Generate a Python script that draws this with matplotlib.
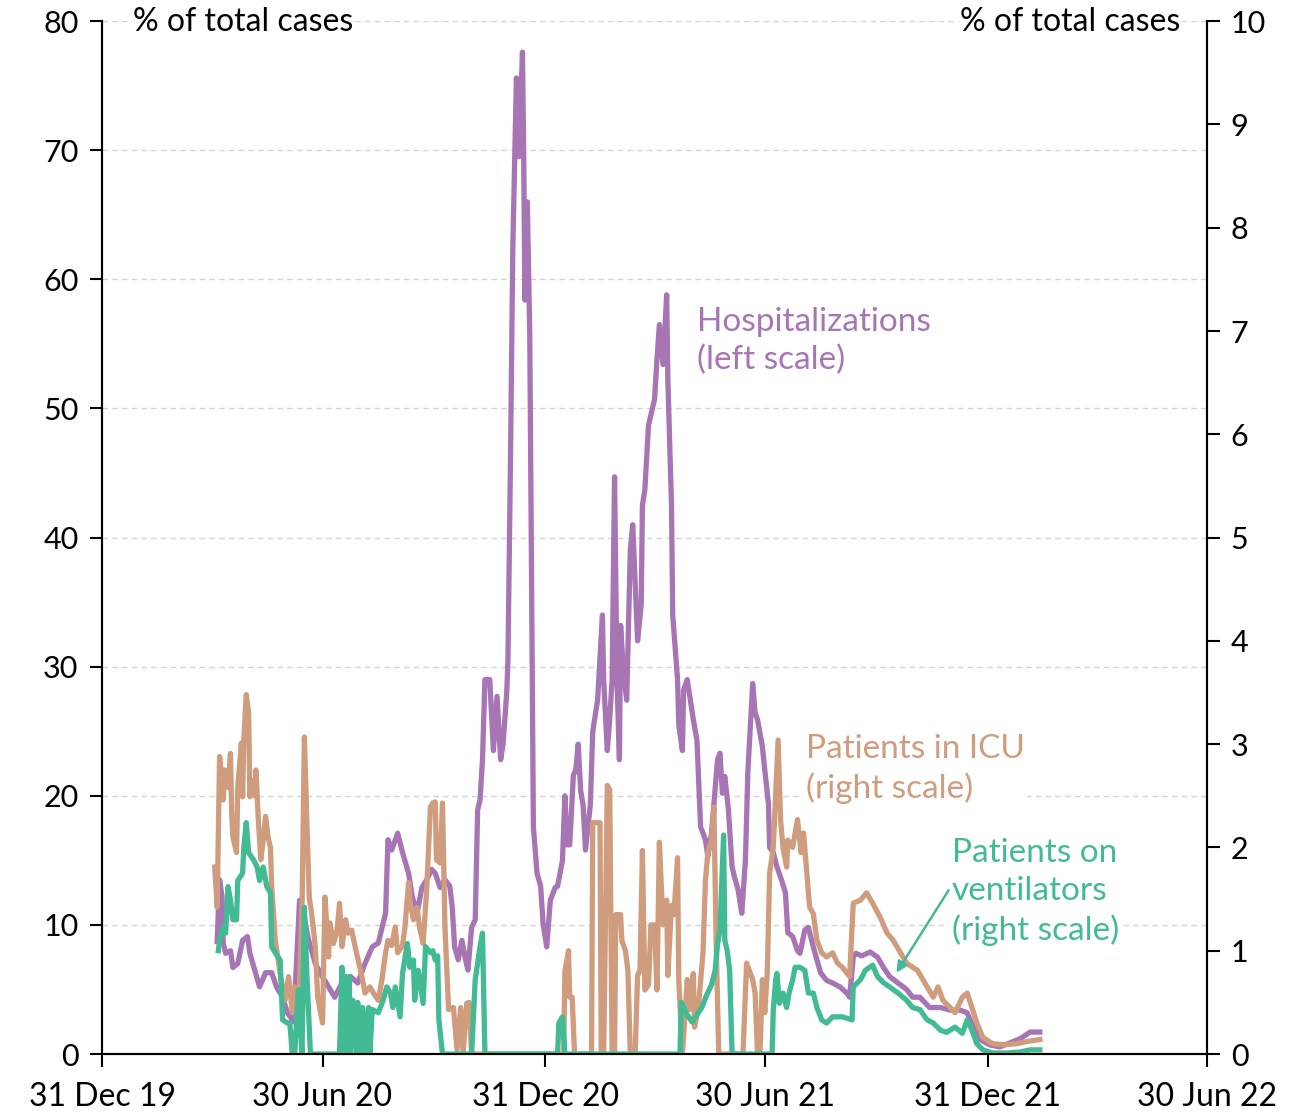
import matplotlib
matplotlib.use("Agg")
import matplotlib.pyplot as plt
import matplotlib.dates as mdates
import pandas as pd

plt.rcParams['font.family'] = ['Lato', 'DejaVu Sans']

# days counted from 31 Dec 2019
hosp_days = [95, 97, 99, 100, 102, 106, 108, 112, 116, 120, 122, 126, 130, 135, 140, 144, 149, 153,
             158, 161, 163, 166, 170, 176, 180, 187, 192, 198, 205, 211, 217, 223, 228, 234, 236, 239,
             244, 248, 253, 256, 260, 264, 268, 272, 275, 279, 283, 287, 289, 291, 294, 297, 300, 302,
             305, 308, 310, 312, 314, 316, 320, 323, 326, 329, 331, 334, 335, 337, 339, 342, 344, 347,
             348, 349, 351, 353, 355, 356, 359, 362, 364, 367, 370, 374, 376, 380, 382, 384, 386, 389,
             391, 393, 395, 397, 399, 403, 405, 409, 413, 414, 417, 419, 421, 423, 425, 427, 428, 430,
             433, 436, 438, 442, 445, 446, 448, 451, 454, 456, 458, 460, 463, 466, 467, 470, 471, 475,
             476, 479, 480, 483, 488, 491, 494, 498, 500, 503, 508, 510, 512, 514, 517, 520, 522, 525,
             528, 531, 533, 537, 539, 541, 545, 547, 550, 551, 554, 557, 560, 564, 566, 570, 574, 576,
             580, 583, 587, 593, 598, 603, 609, 615, 617, 620, 622, 627, 634, 640, 645, 650, 657, 664,
             669, 675, 683, 692, 700, 708, 714, 719, 725, 733, 741, 749, 758, 766, 774]
hosp_vals = [8.7, 13.5, 12.2, 8.6, 7.8, 8.0, 6.7, 7.0, 8.8, 9.1, 7.8, 6.5, 5.2, 6.3, 6.3, 5.2, 4.4, 3.2,
             2.5, 8.0, 11.9, 11.0, 9.0, 7.0, 6.3, 5.2, 4.4, 5.5, 6.0, 5.5, 7.0, 8.3, 8.6, 10.9, 16.6, 15.8,
             17.1, 15.6, 14.0, 12.2, 10.9, 12.9, 13.5, 14.3, 14.0, 12.9, 13.5, 13.0, 11.4, 8.3, 7.3, 8.8, 7.3, 6.5,
             9.8, 10.4, 18.9, 19.7, 22.8, 29.0, 29.0, 23.5, 27.7, 22.8, 24.0, 28.0, 30.5, 45.2, 62.3, 75.6, 69.5, 77.6,
             69.8, 58.4, 66.0, 55.8, 30.5, 17.6, 14.0, 13.0, 10.1, 8.3, 11.9, 12.9, 13.0, 15.0, 20.0, 16.2, 16.2, 21.6,
             22.0, 24.0, 20.4, 19.3, 15.8, 19.3, 25.0, 27.4, 34.0, 29.0, 23.5, 25.9, 29.0, 44.7, 29.0, 22.8, 33.2, 30.0,
             27.4, 39.0, 41.0, 32.0, 34.8, 42.5, 43.7, 48.7, 49.9, 50.7, 53.8, 56.5, 53.4, 58.8, 52.2, 42.5, 34.0, 29.0,
             25.5, 23.5, 28.2, 29.0, 25.9, 24.3, 17.6, 16.6, 15.3, 17.1, 22.8, 23.3, 20.2, 21.5, 18.9, 14.5, 13.7, 12.7,
             10.9, 15.0, 21.8, 28.7, 26.4, 25.9, 23.8, 22.0, 19.4, 16.0, 15.6, 14.5, 13.7, 12.5, 9.4, 9.1, 8.0, 7.8,
             9.6, 9.8, 8.3, 6.3, 5.7, 5.5, 5.2, 4.7, 4.4, 7.5, 7.8, 7.6, 7.9, 7.5, 6.7, 6.0, 5.5, 5.0,
             4.4, 4.4, 3.6, 3.6, 3.4, 3.4, 3.2, 2.1, 1.1, 0.7, 0.55, 0.85, 1.2, 1.7, 1.7]

icu_days = [93, 95, 97, 99, 100, 101, 104, 106, 107, 108, 111, 112, 115, 116, 117, 119, 121, 122, 124, 126,
            127, 129, 131, 133, 135, 137, 139, 140, 143, 147, 151, 154, 157, 159, 162, 165, 167, 169, 171, 173,
            176, 178, 182, 184, 187, 188, 191, 194, 196, 198, 201, 203, 206, 210, 215, 217, 221, 224, 228, 231,
            234, 236, 239, 242, 244, 248, 250, 253, 254, 257, 260, 262, 265, 268, 271, 273, 275, 276, 279, 281,
            283, 286, 290, 293, 296, 298, 301, 303, 305, 381, 382, 385, 386, 388, 390, 404, 405, 411, 412, 414,
            417, 419, 421, 423, 424, 428, 429, 432, 434, 436, 440, 442, 444, 446, 448, 451, 453, 456, 458, 460,
            463, 466, 467, 470, 472, 475, 476, 479, 483, 485, 488, 489, 492, 496, 498, 500, 503, 505, 507, 509,
            529, 532, 537, 539, 541, 543, 545, 547, 549, 551, 554, 556, 558, 560, 562, 565, 566, 570, 572, 574,
            577, 579, 582, 584, 587, 590, 594, 598, 603, 607, 611, 615, 617, 620, 626, 631, 636, 642, 648, 653,
            659, 664, 673, 681, 686, 690, 694, 700, 704, 710, 714, 718, 722, 727, 735, 744, 755, 763, 774]
icu_vals = [1.81, 1.42, 2.88, 2.65, 2.46, 2.75, 2.58, 2.91, 2.33, 2.1, 1.95, 2.58, 3.01, 2.49, 3.04, 3.48, 3.3, 2.49, 2.65, 2.5,
            2.75, 2.27, 1.88, 2.07, 2.3, 2.1, 2.0, 1.62, 1.1, 0.78, 0.52, 0.75, 0.4, 0.65, 0.33, 1.36, 3.07, 2.27, 1.52, 1.36,
            1.04, 0.55, 0.3, 1.52, 0.94, 1.27, 1.07, 1.2, 1.46, 1.04, 1.3, 1.17, 1.2, 0.98, 0.72, 0.59, 0.65, 0.59, 0.52, 0.72,
            0.98, 1.1, 1.05, 1.23, 0.98, 1.05, 1.23, 1.66, 1.49, 1.3, 1.42, 1.23, 1.07, 1.6, 2.39, 2.43, 2.44, 1.88, 1.85, 2.43,
            1.23, 0.43, 0.45, 0.04, 0.45, 0.0, 0.49, 0.5, 0.0, 0.0, 0.8, 1.0, 0.55, 0.55, 0.0, 0.0, 2.24, 2.24, 0.0, 0.0,
            2.6, 2.56, 0.0, 0.0, 1.35, 1.35, 1.1, 1.0, 0.81, 0.0, 0.0, 0.76, 0.81, 1.97, 0.62, 0.67, 1.25, 1.25, 0.62, 2.05,
            1.25, 1.49, 0.76, 1.44, 1.35, 1.9, 0.72, 0.0, 0.72, 0.43, 0.78, 0.26, 0.43, 0.98, 1.68, 1.95, 2.07, 2.39, 1.0, 0.0,
            0.0, 0.88, 0.72, 0.59, 0.0, 0.0, 0.72, 0.4, 0.78, 1.75, 2.0, 2.52, 3.04, 2.27, 2.0, 1.81, 2.07, 2.0, 2.14, 2.27,
            1.95, 2.14, 1.71, 1.42, 1.36, 1.1, 0.98, 0.94, 0.98, 0.88, 0.84, 0.78, 0.75, 1.46, 1.49, 1.56, 1.46, 1.33, 1.17, 1.1,
            0.98, 0.88, 0.81, 0.65, 0.55, 0.65, 0.52, 0.45, 0.4, 0.55, 0.59, 0.45, 0.3, 0.16, 0.1, 0.09, 0.1, 0.12, 0.14]

vent_days = [96, 97, 100, 102, 104, 106, 108, 111, 112, 116, 117, 119, 121, 125, 128, 130, 133, 136, 139, 140,
             143, 147, 149, 153, 155, 157, 159, 162, 165, 167, 169, 172, 196, 198, 199, 201, 202, 204, 205, 207,
             210, 211, 214, 215, 218, 220, 221, 223, 228, 232, 235, 238, 240, 242, 246, 248, 252, 254, 257, 258,
             261, 265, 267, 271, 273, 275, 277, 278, 281, 305, 308, 312, 314, 316, 376, 377, 380, 382, 477, 478,
             483, 487, 491, 495, 499, 503, 506, 508, 510, 513, 514, 516, 518, 520, 553, 554, 556, 557, 559, 562,
             565, 567, 570, 572, 576, 580, 583, 587, 590, 594, 598, 603, 611, 619, 620, 626, 630, 636, 640, 645,
             650, 657, 664, 669, 675, 681, 686, 692, 697, 704, 710, 714, 718, 722, 727, 735, 747, 758, 766, 774]
vent_vals = [1.0, 1.1, 1.23, 1.17, 1.62, 1.49, 1.3, 1.3, 1.68, 1.75, 2.0, 2.24, 1.95, 1.88, 1.81, 1.68, 1.81, 1.62, 1.56, 1.04,
             0.98, 0.91, 0.33, 0.3, 0.3, 0.0, 0.0, 0.62, 0.0, 1.42, 0.78, 0.0, 0.0, 0.84, 0.0, 0.75, 0.0, 0.75, 0.0, 0.52,
             0.0, 0.5, 0.0, 0.45, 0.0, 0.45, 0.0, 0.43, 0.4, 0.52, 0.65, 0.59, 0.45, 0.65, 0.36, 0.78, 1.07, 0.84, 0.91, 0.52,
             0.81, 0.49, 1.04, 0.98, 1.0, 0.91, 0.95, 0.33, 0.0, 0.0, 0.72, 1.04, 1.17, 0.0, 0.0, 0.3, 0.36, 0.0, 0.0, 0.5,
             0.38, 0.31, 0.38, 0.45, 0.57, 0.67, 0.81, 1.06, 1.2, 2.12, 1.1, 1.0, 0.81, 0.0, 0.0, 0.43, 0.72, 0.78, 0.49, 0.59,
             0.45, 0.59, 0.72, 0.84, 0.84, 0.81, 0.59, 0.59, 0.45, 0.33, 0.3, 0.36, 0.36, 0.33, 0.65, 0.72, 0.81, 0.86, 0.75, 0.69,
             0.65, 0.59, 0.52, 0.45, 0.43, 0.33, 0.3, 0.23, 0.21, 0.26, 0.2, 0.33, 0.23, 0.1, 0.04, 0.01, 0.01, 0.02, 0.04, 0.04]

tick_dates = ['2019-12-31', '2020-06-30', '2020-12-31', '2021-06-30', '2021-12-31', '2022-06-30']

base = pd.Timestamp('2019-12-31')
def to_dates(days):
    return base + pd.to_timedelta(days, unit='D')

purple = '#a775b3'
tan = '#cf9c7e'
green = '#42ba94'

fig = plt.figure(figsize=(13.1, 11.13), dpi=100)
ax = fig.add_axes([0.0779, 0.053, 0.8435, 0.928])
ax2 = ax.twinx()

lw = 3.8
ax.plot(to_dates(hosp_days), hosp_vals, color=purple, lw=lw, solid_joinstyle='round')
ax2.plot(to_dates(icu_days), icu_vals, color=tan, lw=lw, solid_joinstyle='round')
ax2.plot(to_dates(vent_days), vent_vals, color=green, lw=lw, solid_joinstyle='round')

ax.set_xlim(pd.Timestamp(tick_dates[0]), pd.Timestamp(tick_dates[-1]))
ax.set_ylim(0, 80)
ax2.set_ylim(0, 10)
ax.set_yticks(range(0, 81, 10))
ax2.set_yticks(range(0, 11))
ax.set_xticks([pd.Timestamp(d) for d in tick_dates])
ax.xaxis.set_major_formatter(mdates.DateFormatter('%d %b %y'))

ax.grid(axis='y', color='#d4d4d4', ls=(0, (4, 3)), lw=1)
ax.set_axisbelow(True)

for a in (ax, ax2):
    a.spines['top'].set_visible(False)
    for s in ('left', 'right', 'bottom'):
        a.spines[s].set_linewidth(1.5)
    a.tick_params(direction='out', length=9, width=1.5, labelsize=22, pad=8)
ax.tick_params(axis='x', labelsize=23, pad=11)

ax2.text(0.028, 0.999, '% of total cases', transform=ax2.transAxes, ha='left', va='center',
         fontsize=23, bbox=dict(facecolor='white', edgecolor='none', pad=1))
ax2.text(0.9756, 0.999, '% of total cases', transform=ax2.transAxes, ha='right', va='center',
         fontsize=23, bbox=dict(facecolor='white', edgecolor='none', pad=1))

ax2.text(0.5385, 0.690, 'Hospitalizations\n(left scale)', transform=ax2.transAxes, color=purple,
         fontsize=24, ha='left', va='center', linespacing=1.32)
ax2.text(0.637, 0.276, 'Patients in ICU\n(right scale)', transform=ax2.transAxes, color=tan,
         fontsize=24, ha='left', va='center', linespacing=1.32,
         bbox=dict(facecolor='white', edgecolor='none', pad=2))
ax2.text(0.769, 0.157, 'Patients on\nventilators\n(right scale)', transform=ax2.transAxes, color=green,
         fontsize=24, ha='left', va='center', linespacing=1.32,
         bbox=dict(facecolor='white', edgecolor='none', pad=2))
ax2.annotate('', xy=(0.7176, 0.0765), xytext=(0.7674, 0.1607), xycoords='axes fraction',
             textcoords='axes fraction',
             arrowprops=dict(arrowstyle='-|>', color=green, lw=1.8, mutation_scale=16))

fig.savefig('out.png', dpi=100)
